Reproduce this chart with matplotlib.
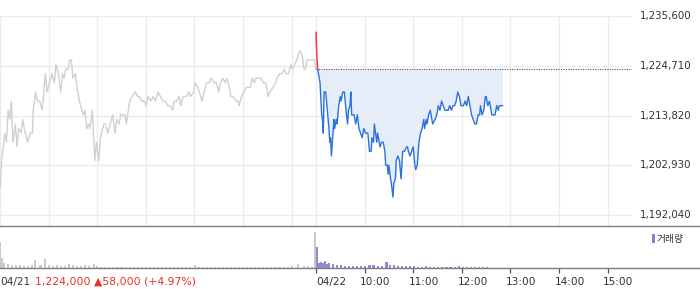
import matplotlib
matplotlib.use('Agg')
import matplotlib.pyplot as plt
from matplotlib.lines import Line2D
from matplotlib.patches import Rectangle
import matplotlib.transforms as mtrans
import numpy as np

# ---------------- data ----------------
prev_close = 1224000
y_ticks = [1192040, 1202930, 1213820, 1224710, 1235600]
y_tick_labels = ['1,192,040', '1,202,930', '1,213,820', '1,224,710', '1,235,600']
x_tick_labels = ['04/22', '10:00', '11:00', '12:00', '13:00', '14:00', '15:00']
prev_label = '04/21'
prev_summary = '1,224,000 \u25b258,000 (+4.97%)'
legend_label = '거래량'

# 04/21 intraday (minutes after 09:00, price)
prev_min = [0, 2, 6, 8, 10, 12, 14, 16, 19, 21, 23, 26, 28, 30, 34, 37, 40, 41, 44, 46,
            49, 52, 56, 58, 61, 64, 67, 69, 72, 75, 77, 79, 81, 84, 86, 88, 90, 93, 95, 98,
            101, 103, 105, 107, 109, 111, 114, 117, 119, 122, 124, 128, 130, 133, 136, 139, 142, 144, 147, 149,
            152, 154, 156, 160, 163, 167, 170, 172, 175, 178, 180, 183, 186, 189, 192, 195, 198, 201, 204, 207,
            210, 213, 215, 218, 221, 223, 226, 230, 233, 235, 239, 241, 244, 246, 249, 252, 255, 258, 261, 264,
            267, 270, 272, 275, 278, 280, 283, 285, 288, 291, 294, 295, 298, 301, 304, 307, 309, 311, 314, 316,
            319, 322, 325, 328, 331, 333, 337, 340, 342, 345, 348, 351, 353, 356, 359, 361, 364, 366, 368, 370,
            373, 375, 377, 379, 383, 388, 390]
prev_price = [1198000, 1204000, 1210000, 1208000, 1215000, 1213000, 1217000, 1208000, 1212000, 1207000,
              1211000, 1210000, 1213000, 1211000, 1208000, 1210000, 1210000, 1215000, 1219000, 1217000,
              1217000, 1215000, 1223000, 1219000, 1221000, 1223000, 1221000, 1225000, 1223000, 1219000,
              1223000, 1222000, 1224000, 1224000, 1226000, 1226000, 1222000, 1223000, 1220000, 1217000,
              1215000, 1214000, 1215000, 1211000, 1212000, 1211000, 1215000, 1204000, 1208000, 1204000,
              1209000, 1212000, 1212000, 1210000, 1212000, 1214000, 1210000, 1213000, 1212000, 1214000,
              1214000, 1214000, 1212000, 1217000, 1218000, 1219000, 1218000, 1218000, 1217000, 1217000,
              1216000, 1218000, 1217000, 1218000, 1217000, 1219000, 1218000, 1217000, 1217000, 1216000,
              1216000, 1215000, 1217000, 1217000, 1218000, 1216000, 1218000, 1218000, 1219000, 1218000,
              1219000, 1221000, 1220000, 1219000, 1217000, 1219000, 1221000, 1221000, 1222000, 1221000,
              1221000, 1219000, 1221000, 1222000, 1221000, 1222000, 1220000, 1218000, 1218000, 1217000,
              1217000, 1216000, 1218000, 1219000, 1220000, 1220000, 1220000, 1222000, 1221000, 1222000,
              1222000, 1222000, 1221000, 1221000, 1218000, 1219000, 1220000, 1221000, 1222000, 1223000,
              1223000, 1224000, 1223000, 1223000, 1225000, 1224000, 1225000, 1226000, 1227000, 1228000,
              1227000, 1224000, 1224000, 1226000, 1226000, 1226000, 1224000]

# 04/22 intraday (minutes after 09:00, price)
today_min = [0, 1, 2, 5, 7, 8, 9, 10, 12, 14, 16, 17, 18, 19, 21, 22, 23, 25, 26, 28,
             30, 31, 33, 35, 37, 39, 40, 42, 43, 44, 47, 49, 51, 53, 55, 57, 59, 61, 64, 66,
             68, 69, 71, 72, 75, 76, 77, 79, 81, 83, 85, 86, 88, 89, 90, 92, 93, 95, 96, 98,
             99, 101, 103, 105, 107, 109, 112, 113, 114, 116, 118, 120, 122, 123, 125, 127, 129, 131, 133, 134,
             136, 137, 139, 141, 142, 144, 147, 149, 151, 153, 155, 157, 159, 161, 163, 165, 167, 169, 171, 173,
             175, 177, 179, 182, 184, 186, 188, 190, 192, 194, 196, 198, 200, 202, 203, 205, 207, 209, 210, 212,
             214, 216, 217, 219, 221, 223, 225, 226, 228, 230]
today_price = [1232000, 1227000, 1224000, 1221000, 1214000, 1213000, 1210000, 1219000, 1219000, 1215000,
               1211000, 1208000, 1209000, 1205000, 1210000, 1213000, 1211000, 1213000, 1212000, 1216000,
               1218000, 1217000, 1219000, 1219000, 1215000, 1212000, 1215000, 1216000, 1219000, 1214000,
               1214000, 1212000, 1214000, 1211000, 1210000, 1209000, 1211000, 1210000, 1210000, 1206000,
               1206000, 1209000, 1208000, 1212000, 1208000, 1210000, 1209000, 1207000, 1208000, 1208000,
               1206000, 1203000, 1203000, 1201000, 1203000, 1200000, 1199000, 1196000, 1199000, 1200000,
               1204000, 1205000, 1204000, 1200000, 1206000, 1206000, 1207000, 1207000, 1206000, 1205000,
               1206000, 1207000, 1203000, 1202000, 1203000, 1208000, 1210000, 1211000, 1213000, 1211000,
               1213000, 1212000, 1214000, 1215000, 1214000, 1212000, 1213000, 1214000, 1216000, 1215000,
               1217000, 1216000, 1215000, 1215000, 1215000, 1216000, 1215000, 1216000, 1216000, 1217000,
               1219000, 1218000, 1216000, 1216000, 1217000, 1216000, 1218000, 1216000, 1214000, 1213000,
               1212000, 1212000, 1214000, 1214000, 1216000, 1214000, 1215000, 1218000, 1218000, 1216000,
               1217000, 1215000, 1214000, 1214000, 1214000, 1216000, 1215000, 1216000, 1216000, 1216000]

# volume (shares) at 5-minute buckets
vol_prev_min = [0, 3, 5, 10, 15, 20, 25, 30, 35, 40, 43, 50, 55, 60, 65, 70, 75, 80, 85, 90,
                95, 100, 105, 110, 116, 120, 125, 130, 135, 140, 145, 150, 155, 160, 165, 170, 175, 180, 185, 190,
                195, 200, 205, 210, 215, 220, 225, 230, 235, 241, 245, 250, 255, 260, 265, 270, 275, 280, 285, 290,
                295, 300, 305, 310, 315, 320, 325, 330, 335, 340, 345, 350, 355, 360, 368, 375, 380, 385, 389]
vol_prev = [2600, 1000, 500, 400, 300, 300, 300, 200, 200, 300, 800, 300, 900, 300, 200, 300, 200, 200, 400, 300,
            200, 200, 300, 200, 400, 200, 100, 100, 100, 100, 100, 100, 100, 100, 100, 100, 100, 100, 100, 100,
            100, 100, 100, 100, 100, 100, 100, 100, 100, 300, 100, 100, 100, 100, 100, 100, 100, 100, 100, 100,
            100, 100, 100, 100, 100, 100, 100, 100, 100, 100, 100, 100, 100, 200, 400, 200, 200, 100, 3600]
vol_today_min = [0, 3, 5, 8, 10, 13, 15, 20, 25, 30, 35, 40, 45, 50, 55, 60, 65, 70, 75, 80,
                 86, 90, 95, 100, 105, 110, 115, 120, 125, 130, 135, 140, 145, 150, 155, 160, 165, 170, 175, 180,
                 185, 190, 195, 200, 205, 210]
vol_today = [2100, 500, 600, 500, 700, 400, 500, 400, 300, 300, 200, 200, 200, 200, 200, 200, 300, 300, 200, 200,
             600, 300, 300, 200, 200, 200, 200, 200, 100, 100, 200, 100, 100, 100, 100, 100, 100, 100, 200, 100,
             100, 100, 100, 100, 100, 100]

# ---------------- layout ----------------
W, H = 700, 289
fig = plt.figure(figsize=(W / 100, H / 100), dpi=100)
fig.patch.set_facecolor('white')

def fx(px):
    return px / W

def fy(py):
    return 1 - py / H

plot_right = 632
ax = fig.add_axes([0, fy(226), fx(plot_right), fy(16) - fy(226)])
axv = fig.add_axes([0, fy(268), fx(plot_right), fy(226) - fy(268)])

SESSION = 390
XMAX = 2 * SESSION
ymin, ymax = 1189700, 1235600

grid_c = '#ebebeb'
for a in (ax, axv):
    a.set_xlim(0, XMAX)
    for s in a.spines.values():
        s.set_visible(False)
    a.set_yticks([])
    a.patch.set_alpha(0)

ax.set_ylim(ymin, ymax)
ax.set_xticks([])
# grid
for yt in y_ticks:
    ax.axhline(yt, color=grid_c, lw=1, zorder=0)
vgrid = list(range(0, SESSION, 60)) + [SESSION + 60 * k for k in range(7)]
for xv in vgrid:
    ax.axvline(xv, color=grid_c, lw=1, zorder=0)

# previous day line
ax.plot(prev_min, prev_price, color='#cdd0d4', lw=1.0, zorder=2, solid_joinstyle='round')

# today line
tx = np.array(today_min) + SESSION
tp = np.array(today_price)
i0 = int(np.argmax(tp <= prev_close))
ax.plot(tx[:i0 + 1], tp[:i0 + 1], color='#f23a3a', lw=1.1, zorder=3)
ax.fill_between(tx[i0:], tp[i0:], prev_close, color='#e5edf8', lw=0, zorder=1)
ax.plot(tx[i0:], tp[i0:], color='#2d72dc', lw=1.0, zorder=3, solid_joinstyle='round')

# reference line (previous close)
ax.plot([SESSION, XMAX], [prev_close, prev_close], color='#555555', lw=0.8,
        linestyle=(0, (1, 1.2)), zorder=2)

# right axis labels
trans_r = mtrans.blended_transform_factory(fig.transFigure, ax.transData)
for yt, lab in zip(y_ticks, y_tick_labels):
    ax.text(fx(640), yt, lab, transform=trans_r, ha='left', va='center',
            fontsize=7.4, color='#333333', family='DejaVu Sans', clip_on=False)

# volume
vmax = 4200
axv.set_ylim(0, vmax)
axv.bar(vol_prev_min, vol_prev, width=2.6, color='#c6c9ce', align='center', lw=0)
axv.bar(np.array(vol_today_min) + SESSION + 1, vol_today, width=2.6, color='#9a86c8', align='center', lw=0)

tick_x = [SESSION + 60 * k for k in range(7)]
axv.set_xticks(tick_x)
axv.set_xticklabels([])
axv.tick_params(axis='x', direction='out', length=3.5, width=0.9, color='#555555')

# bottom labels
tb = mtrans.blended_transform_factory(axv.transData, fig.transFigure)
for i, (xv, lab) in enumerate(zip(tick_x, x_tick_labels)):
    off = 0 if i == 0 else -4.5
    axv.text(xv, fy(282), lab, transform=mtrans.offset_copy(tb, fig=fig, x=off * 0.72, units='points'),
             ha='left', va='center', fontsize=7.6, color='#333333', family='DejaVu Sans', clip_on=False)
fig.text(fx(0), fy(282), prev_label, ha='left', va='center', fontsize=7.6, color='#333333', family='DejaVu Sans')
fig.text(fx(35), fy(282), prev_summary, ha='left', va='center', fontsize=7.8, color='#e8302c',
         family=['DejaVu Sans'])

# border lines spanning the figure width
for py in (226, 268):
    fig.add_artist(Line2D([0, 1], [fy(py), fy(py)], transform=fig.transFigure, color='#7a7d83', lw=1.0))

# legend
fig.add_artist(Rectangle((fx(652), fy(243)), fx(3), fy(234) - fy(243), transform=fig.transFigure,
                         color='#8f7cc6', lw=0))
fig.text(fx(657), fy(239), legend_label, ha='left', va='center', fontsize=7, color='#333333',
         family=['Noto Sans CJK KR', 'DejaVu Sans'])

fig.savefig('out.png', dpi=100, facecolor='white')
